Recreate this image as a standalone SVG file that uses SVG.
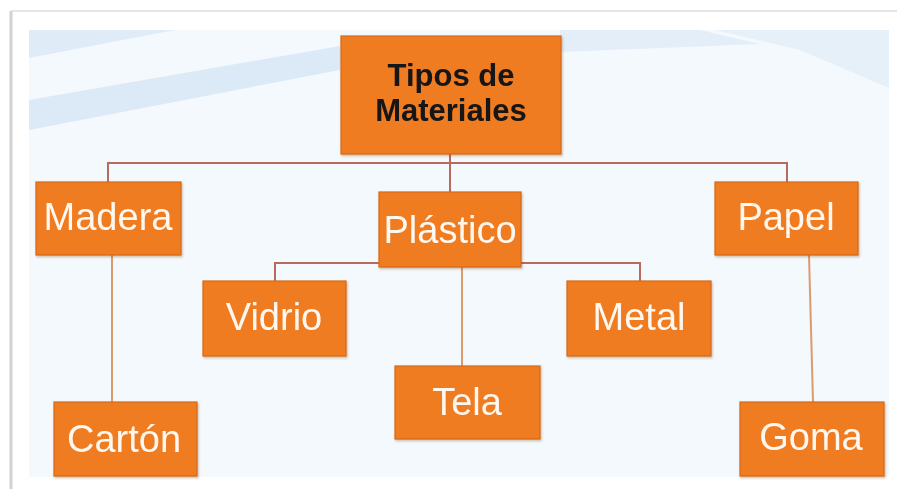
<svg xmlns="http://www.w3.org/2000/svg" width="897" height="489" viewBox="0 0 897 489">
<defs>
<style>
.box{fill:#f07b22;stroke:#d7691a;stroke-width:1.2}
.lbl{font-family:"Liberation Sans",Arial,sans-serif;font-size:38px;fill:#fff8f0;text-anchor:middle}
.title{font-family:"Liberation Sans",Arial,sans-serif;font-size:31px;font-weight:bold;fill:#141414;text-anchor:middle}
.c1{fill:none;stroke:#b96a5e;stroke-width:2}
.c2{fill:none;stroke:#dd9a6e;stroke-width:2}
</style>
<filter id="sh" x="-10%" y="-10%" width="125%" height="125%">
<feDropShadow dx="1" dy="1.5" stdDeviation="1" flood-color="#7a3a0a" flood-opacity="0.35"/>
</filter>
</defs>
<rect x="0" y="0" width="897" height="489" fill="#ffffff"/>
<line x1="11" y1="11" x2="897" y2="11" stroke="#e6e6e6" stroke-width="2"/>
<line x1="11" y1="11" x2="11" y2="489" stroke="#d2d2d2" stroke-width="3"/>
<rect x="29" y="30" width="860" height="447" fill="#f4f9fd"/>
<polygon points="29,30 175,30 29,58" fill="#dfebf7"/>
<polygon points="29,100 340,46 340,70 29,130" fill="#dce9f6"/>
<polygon points="560,30 700,30 760,44 560,52" fill="#e3eef8"/>
<polygon points="715,30 889,30 889,88 800,50" fill="#e6f0f9"/>
<g id="connectors">
<path class="c1" d="M450,154 V192 M108,182 V163 H787 V182"/>
<path class="c1" d="M379,263 H275 V281 M521,263 H640 V281"/>
<path class="c2" d="M112,255 V402 M462,267 V366 M809,255 L813,402"/>
</g>
<g id="root" filter="url(#sh)"><rect class="box" x="341" y="36" width="220" height="118"/><text class="title" x="451" y="86">Tipos de</text><text class="title" x="451" y="121">Materiales</text></g>
<g id="madera" filter="url(#sh)"><rect class="box" x="36" y="182" width="145" height="73"/><text class="lbl" x="108" y="230">Madera</text></g>
<g id="plastico" filter="url(#sh)"><rect class="box" x="379" y="192" width="142" height="75"/><text class="lbl" x="450" y="243">Plástico</text></g>
<g id="papel" filter="url(#sh)"><rect class="box" x="715" y="182" width="143" height="73"/><text class="lbl" x="786" y="230">Papel</text></g>
<g id="carton" filter="url(#sh)"><rect class="box" x="54" y="402" width="143" height="74"/><text class="lbl" x="124" y="452">Cartón</text></g>
<g id="vidrio" filter="url(#sh)"><rect class="box" x="203" y="281" width="143" height="75"/><text class="lbl" x="274" y="330">Vidrio</text></g>
<g id="metal" filter="url(#sh)"><rect class="box" x="567" y="281" width="144" height="75"/><text class="lbl" x="639" y="330">Metal</text></g>
<g id="tela" filter="url(#sh)"><rect class="box" x="395" y="366" width="145" height="73"/><text class="lbl" x="467" y="415">Tela</text></g>
<g id="goma" filter="url(#sh)"><rect class="box" x="740" y="402" width="144" height="74"/><text class="lbl" x="811" y="450">Goma</text></g>
</svg>
